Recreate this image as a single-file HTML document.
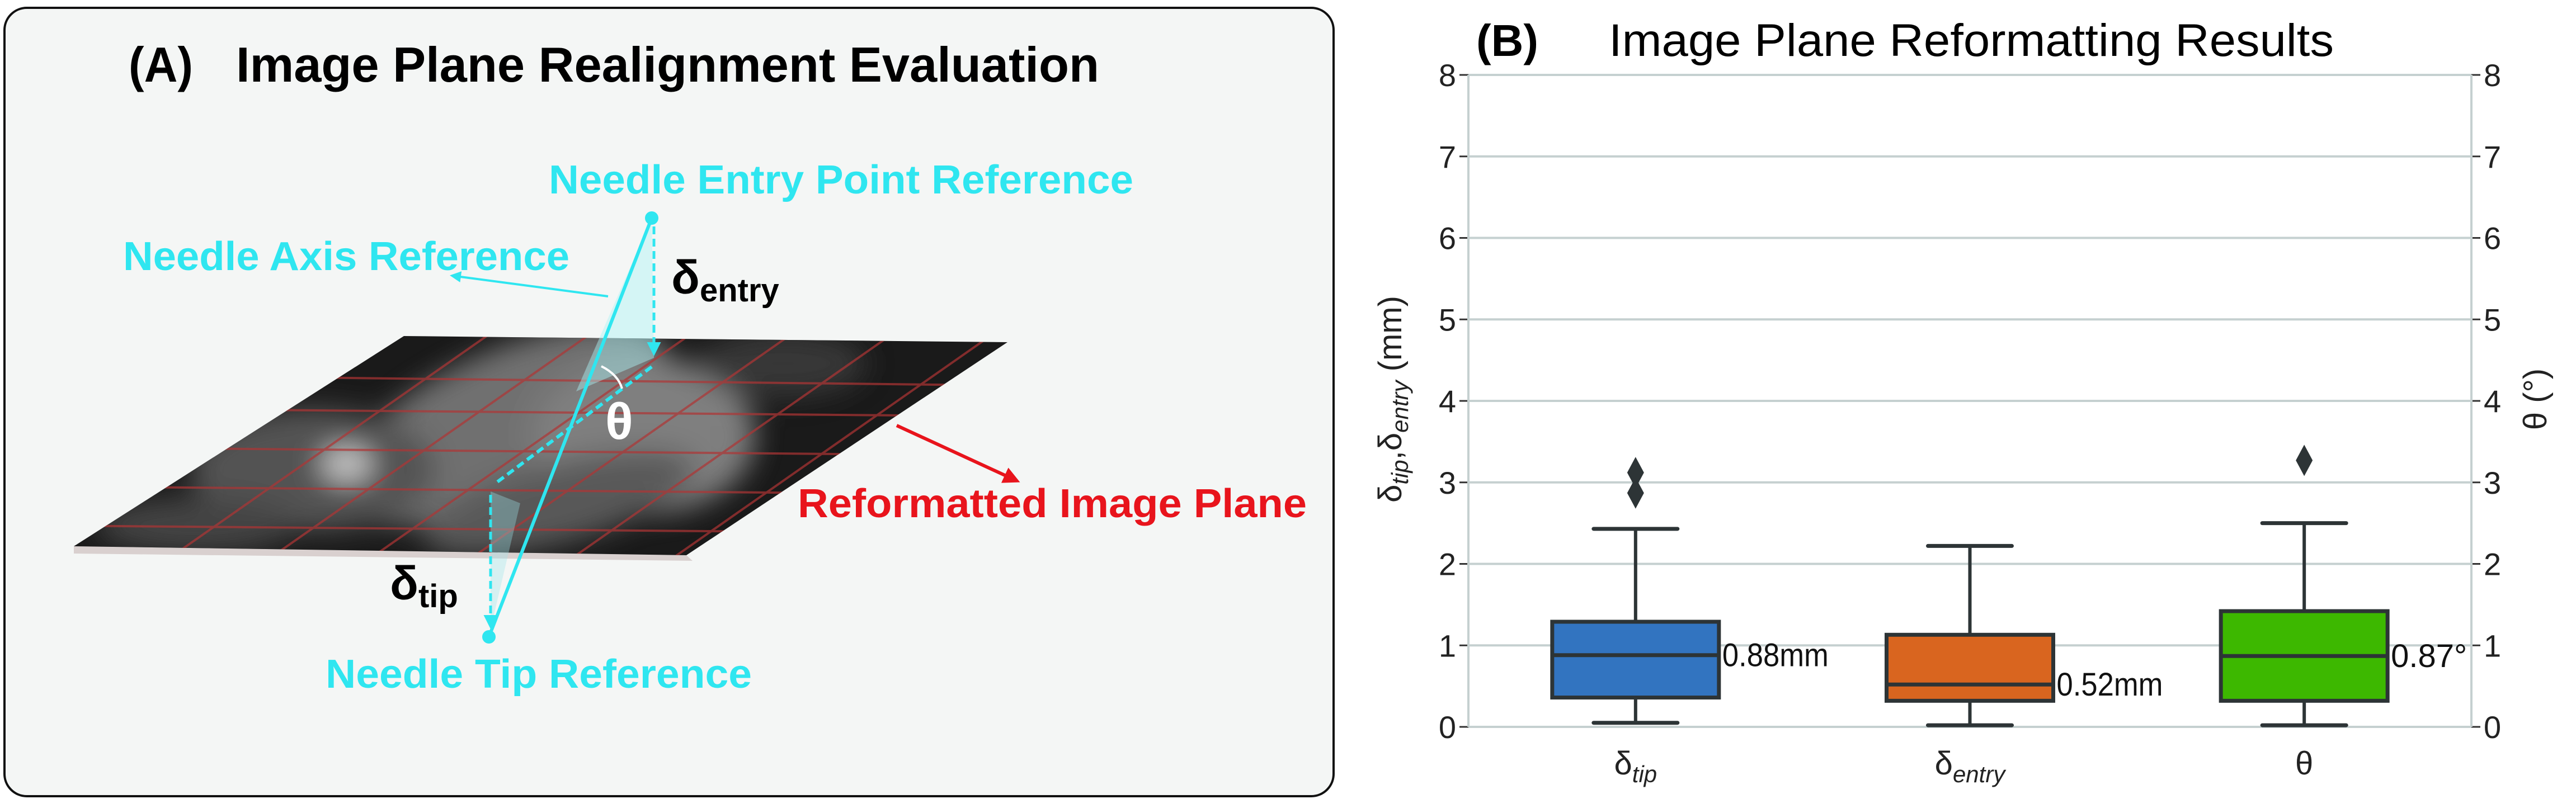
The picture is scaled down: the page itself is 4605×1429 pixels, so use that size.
<!DOCTYPE html>
<html><head><meta charset="utf-8"><style>
html,body{margin:0;padding:0;background:#fff}
svg{display:block}
text{font-family:"Liberation Sans Narrow","Liberation Sans",sans-serif}
</style></head><body>
<svg id="fig" width="4605" height="1429" viewBox="0 0 4605 1429" xmlns="http://www.w3.org/2000/svg">
<defs>
<clipPath id="planeClip"><polygon points="722,601 1801,612 1227,993 132,977"/></clipPath>
<filter id="blur"><feGaussianBlur stdDeviation="25"/></filter>
<marker id="ac" viewBox="0 0 10 10" refX="8" refY="5" markerWidth="5" markerHeight="5" orient="auto"><path d="M0,0 L10,5 L0,10 z" fill="#2fe6f0"/></marker>
<marker id="ar" viewBox="0 0 10 10" refX="8" refY="5" markerWidth="5" markerHeight="5" orient="auto"><path d="M0,0 L10,5 L0,10 z" fill="#e8141c"/></marker>
</defs>
<g>
<rect x="8" y="14" width="2376" height="1410" rx="40" fill="#f4f6f5" stroke="#111" stroke-width="4"/>
<text x="230" y="146" font-size="88" font-weight="bold" textLength="115" lengthAdjust="spacingAndGlyphs">(A)</text>
<text x="422" y="146" font-size="88" font-weight="bold" textLength="1543" lengthAdjust="spacingAndGlyphs">Image Plane Realignment Evaluation</text>
<polygon points="132,977 1227,993 1238,1003 132,990" fill="#d9d0cf"/>
<g clip-path="url(#planeClip)">
<rect x="100" y="580" width="1750" height="440" fill="#1a1a1a"/>
<g filter="url(#blur)" opacity="0.9">
<ellipse cx="900" cy="760" rx="320" ry="130" fill="#7a7a7a" transform="rotate(-25 900 760)"/>
<ellipse cx="1150" cy="780" rx="200" ry="140" fill="#8a8a8a"/>
<ellipse cx="560" cy="840" rx="220" ry="110" fill="#5a5a5a"/>
<ellipse cx="620" cy="830" rx="45" ry="30" fill="#dcdcdc"/>
<ellipse cx="1000" cy="900" rx="250" ry="70" fill="#606060" transform="rotate(-15 1000 900)"/>
<ellipse cx="350" cy="940" rx="180" ry="50" fill="#4a4a4a"/>
<ellipse cx="1400" cy="650" rx="150" ry="60" fill="#3a3a3a"/>
</g>
<g stroke="#b03535" stroke-width="4" opacity="0.7" fill="none">
<line x1="100" y1="670" x2="1850" y2="690"/><line x1="100" y1="730" x2="1850" y2="745"/><line x1="100" y1="800" x2="1850" y2="815"/><line x1="100" y1="870" x2="1850" y2="885"/><line x1="100" y1="940" x2="1850" y2="955"/>
<line x1="300" y1="1000" x2="900" y2="580"/><line x1="480" y1="1000" x2="1080" y2="580"/><line x1="660" y1="1000" x2="1260" y2="580"/><line x1="840" y1="1000" x2="1440" y2="580"/><line x1="1020" y1="1000" x2="1620" y2="580"/><line x1="1200" y1="1000" x2="1800" y2="580"/>
</g>
</g>
<polygon points="1165,390 1169,640 1030,700" fill="#aef4f6" opacity="0.45"/>
<polygon points="877,879 877,1125 930,900" fill="#9fe6ea" opacity="0.35"/>
<line x1="1165" y1="390" x2="874" y2="1139" stroke="#2fe6f0" stroke-width="6"/>
<circle cx="1165" cy="390" r="12" fill="#2fe6f0"/>
<circle cx="874" cy="1139" r="12" fill="#2fe6f0"/>
<line x1="1169" y1="405" x2="1169" y2="632" stroke="#2fe6f0" stroke-width="5" stroke-dasharray="14,8" marker-end="url(#ac)"/>
<line x1="877" y1="885" x2="877" y2="1120" stroke="#2fe6f0" stroke-width="5" stroke-dasharray="14,8" marker-end="url(#ac)"/>
<line x1="1165" y1="656" x2="885" y2="865" stroke="#2fe6f0" stroke-width="6" stroke-dasharray="14,8"/>
<path d="M1075,655 Q1105,670 1112,695" stroke="#fff" stroke-width="4" fill="none"/>
<line x1="1087" y1="530" x2="808" y2="493" stroke="#2fe6f0" stroke-width="4" marker-end="url(#ac)"/>
<line x1="1603" y1="761" x2="1818" y2="860" stroke="#e8141c" stroke-width="6" marker-end="url(#ar)"/>
<text x="981" y="346" font-size="72" font-weight="bold" fill="#2fe6f0" textLength="1045" lengthAdjust="spacingAndGlyphs">Needle Entry Point Reference</text>
<text x="220" y="483" font-size="72" font-weight="bold" fill="#2fe6f0" textLength="798" lengthAdjust="spacingAndGlyphs">Needle Axis Reference</text>
<text x="582" y="1230" font-size="72" font-weight="bold" fill="#2fe6f0" textLength="762" lengthAdjust="spacingAndGlyphs">Needle Tip Reference</text>
<text x="1426" y="925" font-size="72" font-weight="bold" fill="#e8141c" textLength="910" lengthAdjust="spacingAndGlyphs">Reformatted Image Plane</text>
<text x="1200" y="525" font-size="84" font-weight="bold" fill="#000">δ<tspan font-size="58" dy="14">entry</tspan></text>
<text x="697" y="1072" font-size="84" font-weight="bold" fill="#000">δ<tspan font-size="58" dy="14">tip</tspan></text>
<text x="1082" y="785" font-size="92" font-weight="bold" fill="#fff">θ</text>
</g>
<g id="chart"></g>
</svg>
<script>
const categories = ["tip", "entry", "theta"];
const whiskerLow = [0.05, 0.02, 0.02];
const q1 = [0.36, 0.32, 0.32];
const medians = [0.88, 0.52, 0.87];
const q3 = [1.29, 1.13, 1.42];
const whiskerHigh = [2.43, 2.22, 2.50];
const outliers = [[2.87, 3.12], [], [3.27]];
const medianLabels = ["0.88mm", "0.52mm", "0.87°"];
const yTicks = [0, 1, 2, 3, 4, 5, 6, 7, 8];
const colors = ["#3274c0", "#d9651f", "#3db800"];

const NS = "http://www.w3.org/2000/svg";
const g = document.getElementById("chart");
const L = 2625, R = 4418, T = 134, B = 1300;
const yMin = 0, yMax = 8;
function y(v){ return B - (v - yMin) / (yMax - yMin) * (B - T); }
function x(i){ return L + (i + 0.5) / categories.length * (R - L); }
function el(tag, attrs, parent){ const e = document.createElementNS(NS, tag); for (const k in attrs) e.setAttribute(k, attrs[k]); (parent||g).appendChild(e); return e; }

const title = el("text", {x: 2639, y: 100, "font-size": 80, "font-weight": "bold"});


title.textContent = "(B)";
const t2 = el("text", {x: 2876, y: 100, "font-size": 82, textLength: 1296, lengthAdjust: "spacingAndGlyphs"});


t2.textContent = "Image Plane Reformatting Results";

yTicks.forEach(t => {
  const gl = el("line", {x1: L, x2: R, y1: y(t), y2: y(t), stroke: "#c5d0d0", "stroke-width": 4});
  
  
  const tl = el("line", {x1: L - 16, x2: L, y1: y(t), y2: y(t), stroke: "#333", "stroke-width": 3});
  
  
  const tr = el("line", {x1: R, x2: R + 16, y1: y(t), y2: y(t), stroke: "#333", "stroke-width": 3});
  
  
  const lt = el("text", {x: L - 22, y: y(t) + 20, "font-size": 56, "text-anchor": "end", fill: "#222"});
  
  
  lt.textContent = t;
  const rt = el("text", {x: R + 22, y: y(t) + 20, "font-size": 56, fill: "#222"});
  
  
  rt.textContent = t;
});
const la = el("line", {x1: L, x2: L, y1: T, y2: B, stroke: "#c5d0d0", "stroke-width": 4});


const ra = el("line", {x1: R, x2: R, y1: T, y2: B, stroke: "#c5d0d0", "stroke-width": 4});



const bw = 298;
categories.forEach((c, i) => {
  const cx = x(i);
  const wl = el("line", {x1: cx, x2: cx, y1: y(whiskerLow[i]), y2: y(whiskerHigh[i]), stroke: "#2d3436", "stroke-width": 6});
  
  
  [whiskerLow[i], whiskerHigh[i]].forEach(v => {
    const cap = el("line", {x1: cx - 75, x2: cx + 75, y1: y(v), y2: y(v), stroke: "#2d3436", "stroke-width": 7, "stroke-linecap": "round"});
    
    
  });
  const box = el("rect", {x: cx - bw/2, y: y(q3[i]), width: bw, height: y(q1[i]) - y(q3[i]), fill: colors[i], stroke: "#2d3436", "stroke-width": 7});
  
  
  const md = el("line", {x1: cx - bw/2, x2: cx + bw/2, y1: y(medians[i]), y2: y(medians[i]), stroke: "#2d3436", "stroke-width": 7});
  
  
  outliers[i].forEach(v => {
    const yy = y(v);
    const o = el("polygon", {points: `${cx},${yy-28} ${cx+15},${yy} ${cx},${yy+28} ${cx-15},${yy}`, fill: "#2d3436"});
    
    
  });
  const ml = el("text", {x: cx + bw/2 + 6, y: y(medians[i]) + 20, "font-size": 58, fill: "#111"});
  if (medianLabels[i].endsWith("mm")) { ml.setAttribute("textLength", 190); ml.setAttribute("lengthAdjust", "spacingAndGlyphs"); }
  
  
  ml.textContent = medianLabels[i];
});

const xl = [["δ","tip"],["δ","entry"],["θ",""]];
xl.forEach((p, i) => {
  const t = el("text", {x: x(i), y: 1385, "font-size": 58, "text-anchor": "middle", fill: "#222"});
  
  
  t.textContent = p[0];
  if (p[1]) { const s = el("tspan", {"font-size": 42, "font-style": "italic", dy: 14}, t); s.textContent = p[1]; }
});

const yl = el("text", {x: 0, y: 0, "font-size": 58, "text-anchor": "middle", fill: "#222", transform: "translate(2505,714) rotate(-90)", style: "font-family:'Liberation Sans',sans-serif"});


yl.textContent = "δ";
const s1 = el("tspan", {"font-size": 42, "font-style": "italic", dy: 12}, yl); s1.textContent = "tip";
const s2 = el("tspan", {dy: -12}, yl); s2.textContent = ",δ";
const s3 = el("tspan", {"font-size": 42, "font-style": "italic", dy: 12}, yl); s3.textContent = "entry";
const s4 = el("tspan", {dy: -12}, yl); s4.textContent = " (mm)";

const yr = el("text", {x: 0, y: 0, "font-size": 58, "text-anchor": "middle", fill: "#222", transform: "translate(4552,714) rotate(-90)", style: "font-family:'Liberation Sans',sans-serif"});


yr.textContent = "θ (°)";
</script>
</body></html>
